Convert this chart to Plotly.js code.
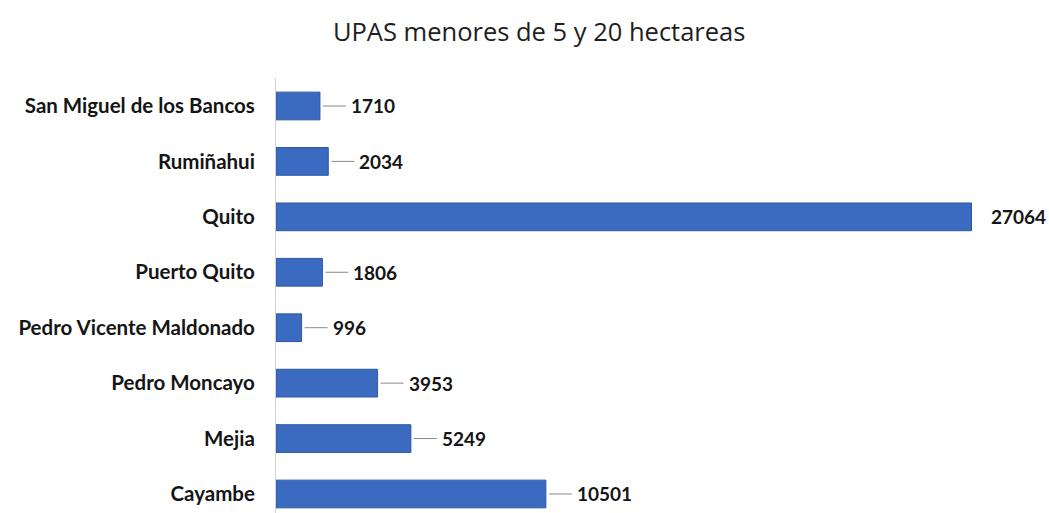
<!DOCTYPE html>
<html><head><meta charset="utf-8">
<script src="https://cdn.plot.ly/plotly-3.0.1.min.js"></script>
<style>html,body{margin:0;padding:0;background:#fff}</style>
</head><body>
<div id="chart" style="width:1049px;height:513px"></div>
<script>
const categories = ["Cayambe","Mejia","Pedro Moncayo","Pedro Vicente Maldonado","Puerto Quito","Quito","Rumiñahui","San Miguel de los Bancos"];
const values = [10501, 5249, 3953, 996, 1806, 27064, 2034, 1710];
const titleText = "UPAS menores de 5 y 20 hectareas";

const trace = {
  type: 'bar', orientation: 'h',
  x: values, y: categories,
  width: 0.5,
  marker: {color: '#3A6BC1', line: {color: '#2D58A3', width: 1}},
  hoverinfo: 'x+y'
};
const annotations = values.map((v, i) => {
  const longBar = v > 20000;
  return {
    x: v, y: categories[i], xref: 'x', yref: 'y',
    text: String(v), showarrow: !longBar, arrowhead: 0, arrowwidth: 1, arrowcolor: '#8a8a8a',
    ax: 26, ay: 0, xshift: longBar ? 14 : 0, standoff: 3, xanchor: 'left', borderpad: 4,
    font: {family: 'Lato, "Open Sans", sans-serif', size: 19, color: '#151515', weight: 'bold'}
  };
});
const layout = {
  width: 1049, height: 513,
  margin: {l: 276, r: 10, t: 78, b: 0},
  paper_bgcolor: '#fff', plot_bgcolor: '#fff',
  title: {text: titleText, x: 0.514, xanchor: 'center', y: 0.937, yanchor: 'middle',
          font: {family: '"Open Sans", Lato, sans-serif', size: 25.5, color: '#1e1e1e'}},
  xaxis: {range: [0, 29690], showgrid: false, zeroline: false, showticklabels: false, showline: false, fixedrange: true},
  yaxis: {type: 'category', range: [-0.343, 7.505], showgrid: false, zeroline: false,
          showline: true, linecolor: '#d4d4d4', linewidth: 1, ticks: '', ticklabelstandoff: 16,
          tickfont: {family: 'Lato, "Open Sans", sans-serif', size: 20.5, color: '#151515', weight: 'bold'}},
  annotations: annotations,
  showlegend: false
};
Plotly.newPlot('chart', [trace], layout, {displayModeBar: false, staticPlot: true});
</script>
</body></html>
